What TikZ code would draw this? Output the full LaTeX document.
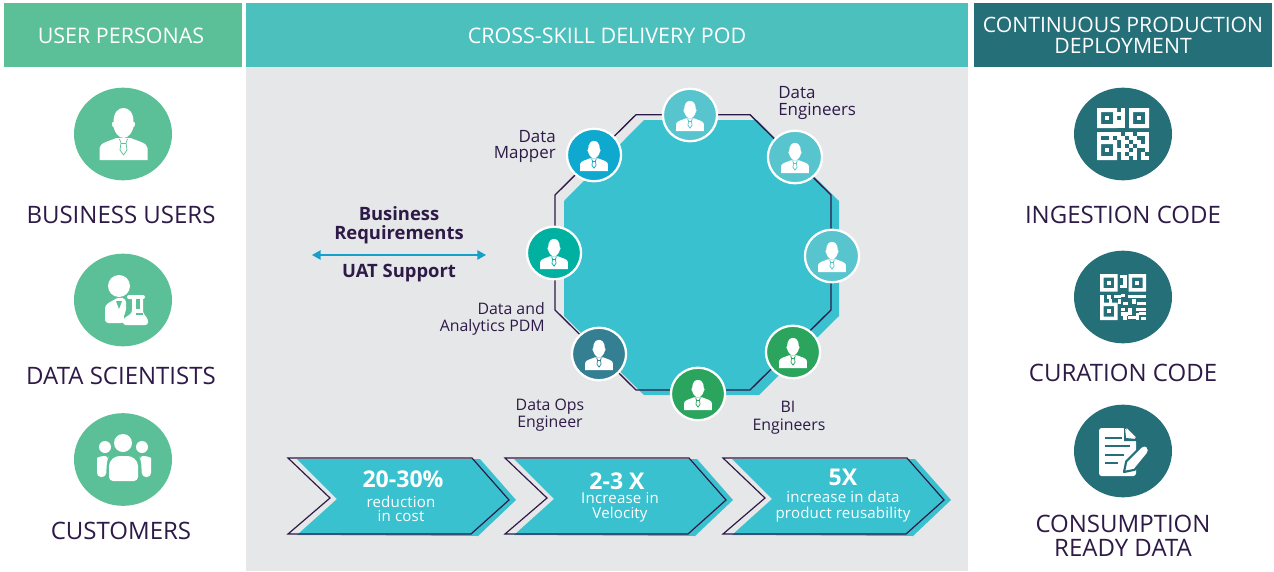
\documentclass[tikz,border=0pt]{standalone}
\usepackage{fontspec}
\usetikzlibrary{arrows.meta,shapes.geometric}
\setmainfont{Open Sans}
\definecolor{ink}{HTML}{2E1A47}
\definecolor{hgreen}{HTML}{5BC097}
\definecolor{hteal}{HTML}{4CC0BC}
\definecolor{hdark}{HTML}{256F79}
\definecolor{panel}{HTML}{E6E7E9}
\definecolor{octa}{HTML}{3AC1CF}
\definecolor{pale}{HTML}{57C4CE}
\definecolor{pblue}{HTML}{0FA8CE}
\definecolor{pgreen}{HTML}{00B1A1}
\definecolor{pslate}{HTML}{347F92}
\definecolor{pleaf}{HTML}{2BA55D}
\definecolor{arrowblue}{HTML}{14A0C8}
\newcommand{\fs}[1]{\fontsize{#1}{#1}\selectfont}
\tikzset{
  headbox/.style={inner sep=0,align=center,text=white,font=\fs{16.1}},
  biglabel/.style={inner sep=0,align=center,text=ink,font=\fs{18}},
  rolelabel/.style={inner sep=0,text=ink,font=\fs{11.9}},
  roletop/.style={rolelabel,font=\fs{12.7}},
  bigdisc/.style={ellipse,inner sep=0,minimum width=73.5pt,minimum height=69.5pt},
  poddisc/.style={ellipse,inner sep=0,minimum width=40.6pt,minimum height=39.4pt,draw=white,line width=1.7pt},
  chevfill/.style={fill=octa},
  chevline/.style={draw=ink,line width=0.9pt,line join=miter},
  statbig/.style={inner sep=0,text=white,font=\fs{17.3}\bfseries},
  statsmall/.style={inner sep=0,text=white,align=center,font=\fs{11.3}\addfontfeatures{LetterSpace=1.2}},
  reqtext/.style={inner sep=0,align=center,text=ink,font=\fs{13.8}\bfseries}
}
% person icon, drawn about the centre of its disc
\newcommand{\personicon}[4]{%
  \begin{scope}[shift={(#1,#2)},scale=#3]
    \fill[white] (-10,-12) .. controls (-10,-22) and (-5,-26) .. (0,-26)
      .. controls (5,-26) and (10,-22) .. (10,-12)
      .. controls (12,-13) and (12,-7) .. (10,-7)
      .. controls (9,-2) and (5,4) .. (0,4)
      .. controls (-5,4) and (-9,-2) .. (-10,-7)
      .. controls (-12,-7) and (-12,-13) .. (-10,-12) -- cycle;
    \fill[white] (-24,26) -- (-24,14) .. controls (-24,9) and (-14,7) .. (-7,4) -- (7,4)
      .. controls (14,7) and (24,9) .. (24,14) -- (24,26) -- cycle;
    \draw[#4,line width=0.55pt,line join=round] (-4,5) -- (-2.5,9) -- (-3.5,16) -- (0,21) -- (3.5,16) -- (2.5,9) -- (4,5);
    \draw[#4,line width=0.55pt] (-2.5,9) -- (2.5,9);
  \end{scope}}
\newcommand{\qrfinder}[3]{% x y unit
  \fill[white,even odd rule] (#1,#2) rectangle +(5*#3,5*#3)
     (#1+#3,#2+#3) rectangle +(3*#3,3*#3);
  \fill[white] (#1+1.9*#3,#2+1.9*#3) rectangle +(1.2*#3,1.2*#3);}
\begin{document}
\begin{tikzpicture}[x=0.75pt,y=-0.75pt]
\useasboundingbox (0,0) rectangle (1274,571);
\fill[white] (0,0) rectangle (1274,571);
% headers and panel
\fill[panel] (246,67) rectangle (968,571);
\fill[hgreen] (4,3) rectangle (242,67);
\fill[hteal] (246,3) rectangle (968,67);
\fill[hdark] (974,3) rectangle (1272,67);
\node[headbox] (hPersonas) at (121,36) {USER PERSONAS};
\node[headbox] (hPod) at (607,36) {CROSS-SKILL DELIVERY POD};
\node[headbox,font=\fs{15.9}] (hDeploy1) at (1123,25) {CONTINUOUS PRODUCTION};
\node[headbox,font=\fs{15.9}] (hDeploy2) at (1123,46) {DEPLOYMENT};
% left column
\node[bigdisc,fill=hgreen] (dUsers) at (123,134) {};
\personicon{123.5}{134}{1}{hgreen}
\node[biglabel] (lUsers) at (121,215) {BUSINESS USERS};
\node[bigdisc,fill=hgreen] (dSci) at (123,300) {};
\begin{scope}
  \fill[white] (119,286) circle [radius=11];
  \fill[white,rounded corners=2.5pt] (105,323) -- (105,305) -- (119,297) -- (126,299) -- (126,312) -- (123,316) -- (125,323) -- cycle;
  \fill[hgreen] (116,301) -- (122,301) -- (119,309) -- cycle;
  \fill[white,rounded corners=1.5pt] (127,295) rectangle (145,299);
  \fill[white,rounded corners=2pt] (123,325) -- (123,319) -- (132,313) -- (132,297) -- (143,297) -- (143,313) -- (148,319) -- (148,325) -- cycle;
  \fill[hgreen] (136,299) rectangle (140,309);
  \fill[hgreen] (136,313) rectangle (143,315);
\end{scope}
\node[biglabel] (lSci) at (121,376) {DATA SCIENTISTS};
\node[bigdisc,fill=hgreen] (dCust) at (123,459.5) {};
\begin{scope}
  \fill[white] (123,443) circle [radius=9];
  \fill[white] (105,447) circle [radius=6];
  \fill[white] (142,447) circle [radius=6];
  \fill[white,rounded corners=3pt] (97,477) -- (97,462) .. controls (97,458) and (100,456) .. (109,456) -- (107,460) -- (106,477) -- cycle;
  \fill[white,rounded corners=3pt] (151,477) -- (151,462) .. controls (151,458) and (148,456) .. (139,456) -- (141,460) -- (142,477) -- cycle;
  \fill[white,rounded corners=3pt] (109,481) -- (109,470) .. controls (109,460) and (115,456) .. (123.5,456) .. controls (132,456) and (138,460) .. (138,470) -- (138,481) -- cycle;
\end{scope}
\node[biglabel] (lCust) at (121,531) {CUSTOMERS};
% right column
\node[bigdisc,fill=hdark] (dIngest) at (1123,134) {};
\begin{scope}[shift={(1097,108)}]
  \qrfinder{0}{0}{4}\qrfinder{32}{0}{4}\qrfinder{0}{32}{4}
  \foreach \c/\r in {6/0,6/1,5/1,6/2,5/3,6/3,6/4,5/4,
    0/6,1/6,2/6,3/6,0/7,3/7,4/6,5/6,5/7,6/7,7/6,8/6,9/7,10/6,11/6,12/6,8/7,12/7,
    6/8,7/8,9/8,10/8,12/8,6/9,8/9,10/9,11/9,12/9,5/10,6/10,7/10,9/10,12/10,
    6/11,8/11,9/11,11/11,6/12,7/12,9/12,11/12,12/12}
    \fill[white] (\c*4,\r*4) rectangle +(4.1,4.1);
\end{scope}
\node[biglabel] (lIngest) at (1123,215) {INGESTION CODE};
\node[bigdisc,fill=hdark] (dCur) at (1123,297) {};
\begin{scope}[shift={(1100,274)}]
  \qrfinder{0}{0}{3.5}\qrfinder{28.5}{0}{3.5}\qrfinder{0}{28.5}{3.5}
  \foreach \c/\r/\w/\h in {5.5/0.3/2.2/0.9,6.5/1.2/1/2,5.5/3/2/1,
    0/6/1/2.5,2/6/1/1,2.5/7/1/1.5,4/6/2/.9,5/7/1/1.5,6.5/8/1.5/.8,8/6/3/.9,
    9/7/1/1.5,11/6/2/.9,10.5/8/2.5/.8,6/5.6/1/1,
    6/9.5/1/1,8/9.6/1/2,10/9.6/3/.8,6/10.8/2/.9,6.5/11.5/1/1.5,8/11.7/2/.9,
    10/11/1/2,11/10.8/2/.8,11.5/12/1.5/1}
    \fill[white] (\c*3.55,\r*3.55) rectangle +(\w*3.55,\h*3.55);
\end{scope}
\node[biglabel] (lCur) at (1123,373) {CURATION CODE};
\node[bigdisc,fill=hdark] (dCons) at (1123,451) {};
\begin{scope}
  \fill[white,rounded corners=2pt] (1099,476) -- (1099,428) -- (1125,428) -- (1136,439) -- (1136,476) -- cycle;
  \fill[hdark] (1125,428) -- (1126,438) -- (1136,439) -- (1137,441) -- (1124,441) -- (1124,428) -- cycle;
  \fill[white] (1126.5,428) -- (1136,437.5) -- (1126.5,437.5) -- cycle;
  \draw[hdark,line width=1.5pt] (1105,437.5) -- (1122,437.5);
  \draw[hdark,line width=1.5pt] (1105,446) -- (1130,446);
  \draw[hdark,line width=1.5pt] (1105,455) -- (1124,455);
  \draw[hdark,line width=1.5pt] (1105,463) -- (1118,463);
  \draw[hdark,fill=white,line width=1.6pt,line join=round] (1124,472) -- (1126.2,461.4) -- (1140.8,446.8) .. controls (1143,444.6) and (1146,445) .. (1147.5,446.5) .. controls (1149.5,449) and (1149.5,452) .. (1147.5,454) -- (1134.6,469.8) -- cycle;
\end{scope}
\node[biglabel] (lCons1) at (1123,524) {CONSUMPTION};
\node[biglabel] (lCons2) at (1123,548) {READY DATA};
% octagon
\fill[octa] (644,120) -- (757,120) -- (839,201) -- (839,316) -- (759,395) -- (644,395) -- (564,316) -- (564,201) -- cycle;
\draw[ink,line width=1pt] (636,114.7) -- (750,114.7) -- (831,195) -- (831,310) -- (750,390) -- (636,390) -- (555,310) -- (555,195) -- cycle;
% pod members
\node[poddisc,fill=pale]   (mTop)   at (690,115) {};
\node[poddisc,fill=pale]   (mEng)   at (795,157) {};
\node[poddisc,fill=pale]   (mRight) at (832,256) {};
\node[poddisc,fill=pleaf]  (mBI)    at (793,352) {};
\node[poddisc,fill=pleaf]  (mBot)   at (698,394) {};
\node[poddisc,fill=pslate] (mOps)   at (599,354) {};
\node[poddisc,fill=pgreen] (mPDM)   at (554,253) {};
\node[poddisc,fill=pblue]  (mMap)   at (594,155) {};
\personicon{690}{116}{0.58}{pale}
\personicon{795}{158}{0.58}{pale}
\personicon{832}{257}{0.58}{pale}
\personicon{793}{353}{0.58}{pleaf}
\personicon{698}{395}{0.58}{pleaf}
\personicon{599}{355}{0.58}{pslate}
\personicon{554}{254}{0.58}{pgreen}
\personicon{594}{156}{0.58}{pblue}
% role labels
\node[roletop,anchor=east] (rMap1) at (556,137) {Data};
\node[roletop,anchor=east] (rMap2) at (556,154) {Mapper};
\node[roletop,anchor=west] (rEng1) at (778,93) {Data};
\node[roletop,anchor=west] (rEng2) at (778,111.5) {Engineers};
\node[rolelabel,anchor=east] (rPDM1) at (545,309) {Data and};
\node[rolelabel,anchor=east] (rPDM2) at (545,327) {Analytics PDM};
\node[rolelabel] (rOps1) at (550,406.5) {Data Ops};
\node[rolelabel] (rOps2) at (550,424) {Engineer};
\node[rolelabel] (rBI1) at (788,407) {BI};
\node[rolelabel] (rBI2) at (789,427) {Engineers};
% business requirements
\node[reqtext] (req1) at (399,213.5) {Business};
\node[reqtext] (req2) at (399,235) {Requirements};
\node[reqtext] (uat) at (399,273) {UAT Support};
\coordinate (arrL) at (312,255);
\coordinate (arrR) at (486,255);
\draw[arrowblue,line width=1.1pt,{Triangle[length=6.5pt,width=7pt]}-{Triangle[length=6.5pt,width=7pt]}] (arrL) -- (arrR);
% chevrons
\foreach \dx in {0,217,435}{
  \begin{scope}[shift={(\dx,0)}]
    \fill[chevfill] (297,459) -- (480,459) -- (516,500) -- (478,536) -- (297,535) -- (337,499) -- cycle;
    \path[chevline] (288,458) -- (472,458) -- (509,500) -- (471,534) -- (288,534) -- (330,498) -- cycle;
  \end{scope}}
\node[statbig] (s1a) at (403,479) {20-30\%};
\node[statsmall] (s1b) at (401,502) {reduction};
\node[statsmall] (s1c) at (401,516) {in cost};
\node[statbig] (s2a) at (617,481) {2-3 X};
\node[statsmall] (s2b) at (620,498.5) {Increase in};
\node[statsmall] (s2c) at (620,515) {Velocity};
\node[statbig] (s3a) at (843,477) {5X};
\node[statsmall] (s3b) at (843,497) {increase in data};
\node[statsmall] (s3c) at (843,515) {product reusability};
\end{tikzpicture}
\end{document}
